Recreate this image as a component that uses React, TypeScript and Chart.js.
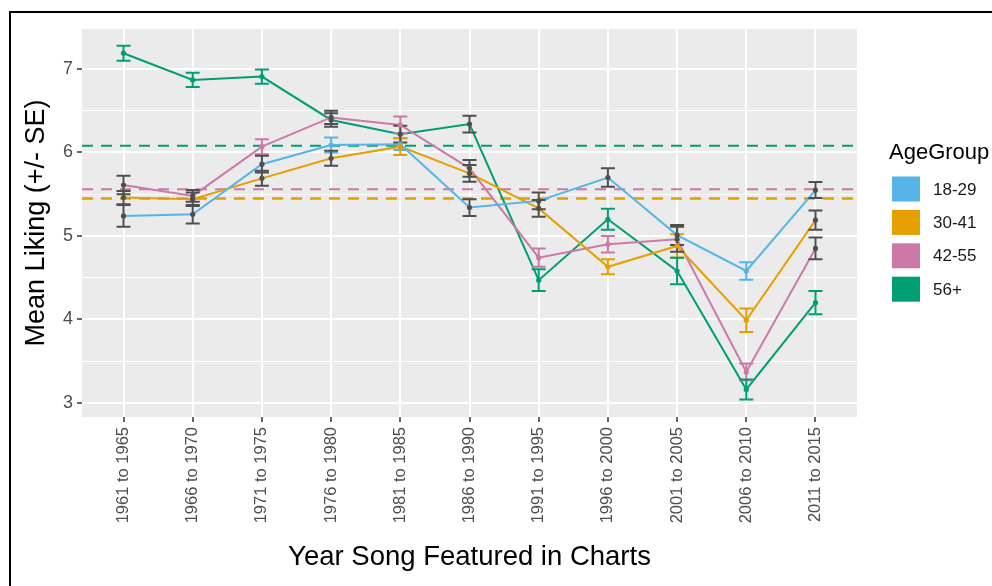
import React, { useEffect, useRef } from "react";
import { Chart, registerables } from "chart.js";

Chart.register(...registerables);

const FONT = "'Liberation Sans', Arial, sans-serif";

const categories = [
  "1961 to 1965",
  "1966 to 1970",
  "1971 to 1975",
  "1976 to 1980",
  "1981 to 1985",
  "1986 to 1990",
  "1991 to 1995",
  "1996 to 2000",
  "2001 to 2005",
  "2006 to 2010",
  "2011 to 2015",
];

const ageGroups = ["18-29", "30-41", "42-55", "56+"];
const groupColors = ["#56B4E9", "#E69F00", "#CC79A7", "#009E73"];

const mean18_29 = [5.24, 5.26, 5.86, 6.09, 6.1, 5.34, 5.42, 5.7, 5.01, 4.58, 5.55];
const se18_29 = [0.13, 0.11, 0.1, 0.09, 0.07, 0.1, 0.1, 0.11, 0.12, 0.105, 0.095];
const gray18_29 = [true, true, true, false, false, true, true, true, true, false, true];

const mean30_41 = [5.46, 5.44, 5.69, 5.93, 6.07, 5.75, 5.33, 4.63, 4.88, 3.99, 5.19];
const se30_41 = [0.08, 0.08, 0.09, 0.09, 0.1, 0.1, 0.1, 0.09, 0.14, 0.14, 0.115];
const gray30_41 = [true, true, true, true, false, true, true, false, false, false, true];

const mean42_55 = [5.61, 5.48, 6.07, 6.42, 6.33, 5.81, 4.74, 4.9, 4.96, 3.37, 4.85];
const se42_55 = [0.11, 0.07, 0.09, 0.08, 0.1, 0.1, 0.11, 0.1, 0.15, 0.1, 0.13];
const gray42_55 = [true, true, false, true, false, true, false, false, true, false, true];

const mean56 = [7.19, 6.87, 6.91, 6.39, 6.22, 6.34, 4.47, 5.2, 4.58, 3.16, 4.2];
const se56 = [0.09, 0.085, 0.085, 0.08, 0.1, 0.1, 0.13, 0.125, 0.16, 0.12, 0.14];
const gray56 = [false, false, false, true, true, true, false, false, false, false, false];

// dashed reference line per age group (overall mean)
const referenceLevels = [5.45, 5.45, 5.56, 6.08];

const yTicks = [3, 3.5, 4, 4.5, 5, 5.5, 6, 6.5, 7];

const seriesMeans = [mean18_29, mean30_41, mean42_55, mean56];
const seriesSE = [se18_29, se30_41, se42_55, se56];
const seriesGray = [gray18_29, gray30_41, gray42_55, gray56];

const GRAY = "#4f4f4f";

const panelBg = {
  id: "panelBg",
  beforeDraw(chart: any) {
    const { ctx, chartArea } = chart;
    ctx.save();
    ctx.fillStyle = "#EBEBEB";
    ctx.fillRect(chartArea.left, chartArea.top, chartArea.right - chartArea.left, chartArea.bottom - chartArea.top);
    ctx.restore();
  },
};

const errorBars = {
  id: "errorBars",
  afterDatasetsDraw(chart: any) {
    const { ctx } = chart;
    const xs = chart.scales.x;
    const ys = chart.scales.y;
    const half = 7;
    const drawBar = (x: number, m: number, se: number, color: string) => {
      const yt = ys.getPixelForValue(m + se);
      const yb = ys.getPixelForValue(m - se);
      ctx.strokeStyle = color;
      ctx.lineWidth = 2;
      ctx.beginPath();
      ctx.moveTo(x, yt);
      ctx.lineTo(x, yb);
      ctx.moveTo(x - half, yt);
      ctx.lineTo(x + half, yt);
      ctx.moveTo(x - half, yb);
      ctx.lineTo(x + half, yb);
      ctx.stroke();
    };
    ctx.save();
    for (let s = 0; s < seriesMeans.length; s++) {
      for (let i = 0; i < categories.length; i++) {
        if (!seriesGray[s][i]) drawBar(xs.getPixelForValue(i), seriesMeans[s][i], seriesSE[s][i], groupColors[s]);
      }
    }
    for (let s = 0; s < seriesMeans.length; s++) {
      for (let i = 0; i < categories.length; i++) {
        if (seriesGray[s][i]) drawBar(xs.getPixelForValue(i), seriesMeans[s][i], seriesSE[s][i], GRAY);
      }
    }
    for (let s = 0; s < seriesMeans.length; s++) {
      for (let i = 0; i < categories.length; i++) {
        ctx.fillStyle = seriesGray[s][i] ? GRAY : groupColors[s];
        ctx.beginPath();
        ctx.arc(xs.getPixelForValue(i), ys.getPixelForValue(seriesMeans[s][i]), 2.6, 0, Math.PI * 2);
        ctx.fill();
      }
    }
    ctx.restore();
  },
};

const legendPlugin = {
  id: "ggLegend",
  afterDraw(chart: any) {
    const { ctx } = chart;
    ctx.save();
    ctx.textBaseline = "middle";
    ctx.textAlign = "left";
    ctx.fillStyle = "#000";
    ctx.font = `22px ${FONT}`;
    ctx.fillText("AgeGroup", 889, 153);
    ctx.font = `17px ${FONT}`;
    for (let k = 0; k < ageGroups.length; k++) {
      const yc = 189 + k * 33.4;
      ctx.fillStyle = groupColors[k];
      ctx.fillRect(892, yc - 12.5, 28, 25);
      ctx.fillStyle = "#1a1a1a";
      ctx.fillText(ageGroups[k], 933, yc + 1);
    }
    ctx.restore();
  },
};

export default function App() {
  const canvasRef = useRef<HTMLCanvasElement | null>(null);

  useEffect(() => {
    if (!canvasRef.current) return;
    const seriesDatasets = ageGroups.map((g, s) => ({
      label: g,
      data: categories.map((_, i) => ({ x: i, y: seriesMeans[s][i] })),
      borderColor: groupColors[s],
      backgroundColor: groupColors[s],
      borderWidth: 2,
      pointRadius: 0,
      tension: 0,
      fill: false,
    }));
    const refDatasets = ageGroups.map((g, s) => ({
      label: g + " mean",
      data: [
        { x: -0.6, y: referenceLevels[s] },
        { x: 10.6, y: referenceLevels[s] },
      ],
      borderColor: groupColors[s],
      borderWidth: 2,
      borderDash: [11, 8],
      pointRadius: 0,
      fill: false,
    }));
    const refOrdered = [refDatasets[3], refDatasets[2], refDatasets[1], refDatasets[0]];

    const chart = new Chart(canvasRef.current, {
      type: "line",
      data: { datasets: [...seriesDatasets, ...refOrdered] as any },
      options: {
        responsive: false,
        maintainAspectRatio: false,
        animation: false,
        devicePixelRatio: 1,
        layout: { padding: { top: 29, right: 135, left: 0, bottom: 0 } },
        plugins: { legend: { display: false }, tooltip: { enabled: false } },
        scales: {
          x: {
            type: "linear",
            min: -0.6,
            max: 10.6,
            afterBuildTicks: (s: any) => {
              s.ticks = categories.map((_, i) => ({ value: i }));
            },
            afterFit: (s: any) => {
              s.height = 169;
            },
            ticks: {
              callback: (v: any) => categories[v as number] ?? "",
              minRotation: 90,
              maxRotation: 90,
              autoSkip: false,
              font: { family: FONT, size: 16.5 },
              color: "#4D4D4D",
              padding: 5,
            },
            grid: { color: "#FFFFFF", lineWidth: 2, tickColor: "#333333", tickLength: 5, tickWidth: 1.5 },
            border: { display: false },
            title: {
              display: true,
              text: "Year Song Featured in Charts",
              font: { family: FONT, size: 27.5 },
              color: "#000",
              padding: { top: 0, bottom: 12 },
            },
          },
          y: {
            type: "linear",
            min: 2.83,
            max: 7.48,
            afterBuildTicks: (s: any) => {
              s.ticks = yTicks.map((v) => ({ value: v }));
            },
            afterFit: (s: any) => {
              s.width = 82;
            },
            ticks: {
              callback: (v: any) => (Number.isInteger(v) ? String(v) : ""),
              font: { family: FONT, size: 18 },
              color: "#4D4D4D",
              padding: 4,
            },
            grid: {
              color: "#FFFFFF",
              lineWidth: (c: any) => (Number.isInteger(c.tick?.value) ? 2 : 1),
              tickColor: (c: any) => (Number.isInteger(c.tick?.value) ? "#333333" : "rgba(0,0,0,0)"),
              tickLength: 5,
              tickWidth: 1.5,
            },
            border: { display: false },
            title: {
              display: true,
              text: "Mean Liking (+/- SE)",
              font: { family: FONT, size: 27 },
              color: "#000",
              padding: { top: 20, bottom: 0 },
            },
          },
        },
      },
      plugins: [panelBg, errorBars, legendPlugin],
    });
    return () => chart.destroy();
  }, []);

  return (
    <div style={{ position: "absolute", left: 0, top: 0, width: 992, height: 586, background: "#fff", overflow: "hidden" }}>
      <canvas ref={canvasRef} width={992} height={586} style={{ display: "block", width: 992, height: 586 }} />
      <div
        style={{
          position: "absolute",
          left: 9,
          top: 11,
          width: 1000,
          height: 600,
          borderTop: "2px solid #000",
          borderLeft: "2px solid #000",
          pointerEvents: "none",
        }}
      />
    </div>
  );
}
